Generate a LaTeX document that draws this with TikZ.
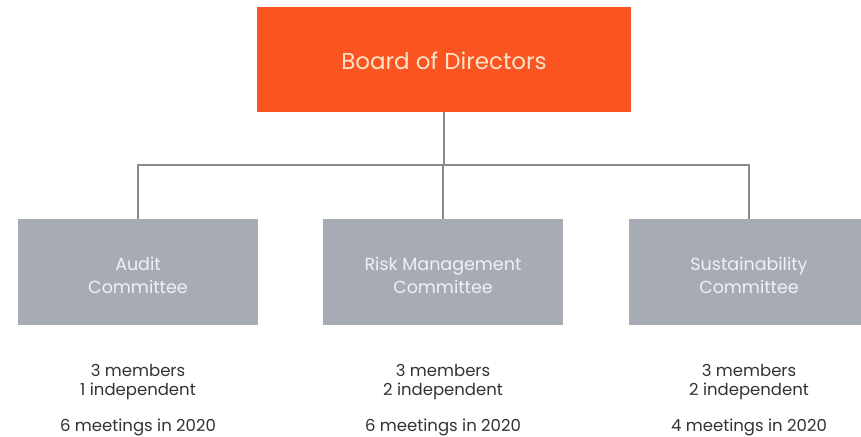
\documentclass[tikz,border=0pt]{standalone}
\usepackage{fontspec}
\setmainfont{Poppins}
\definecolor{boardorange}{HTML}{FA5420}
\definecolor{boardtext}{HTML}{FDE3C9}
\definecolor{commgrey}{HTML}{A7ACB4}
\definecolor{commtext}{HTML}{F0F1F3}
\definecolor{linegrey}{HTML}{8A8A8A}
\definecolor{infotext}{HTML}{333333}
\begin{document}
\begin{tikzpicture}[x=1pt,y=1pt,
  boardbox/.style={fill=boardorange, text=boardtext, minimum width=374pt, minimum height=105pt, inner sep=0pt},
  boardlbl/.style={text=boardtext, inner sep=0pt, font=\fontsize{23}{27}\selectfont},
  commbox/.style={fill=commgrey, minimum width=240pt, minimum height=106pt, inner sep=0pt},
  commlbl/.style={text=commtext, inner sep=0pt, align=center, font=\fontsize{17.5}{23}\selectfont},
  infotxt/.style={text=infotext, anchor=base, inner sep=0pt, font=\fontsize{16.5}{18}\selectfont},
  conn/.style={draw=linegrey, line width=1.3pt}]
\useasboundingbox (0,0) rectangle (861,436);
\clip (0,0) rectangle (861,436);
\fill[white] (0,0) rectangle (861,436);
\node[boardbox] (board) at (444,376.5) {};
\node[boardlbl] (boardt) at ([yshift=-1pt]board.center) {Board of Directors};
\node[commbox] (audit) at (138,164) {};
\node[commbox] (risk) at (443,164) {};
\node[commbox] (sust) at (749,164) {};
\node[commlbl] (auditt) at ([yshift=-3.5pt]audit.center) {Audit\\Committee};
\node[commlbl] (riskt) at ([yshift=-3.5pt]risk.center) {Risk Management\\Committee};
\node[commlbl] (sustt) at ([yshift=-3.5pt]sust.center) {Sustainability\\Committee};
\coordinate (hub) at (board.south |- 0,271);
\draw[conn] (board.south) -- (hub);
\draw[conn] (audit.north) |- (hub) -| (sust.north);
\draw[conn] (hub) -- (hub -| risk.north) -- (risk.north);
\node[infotxt] (a1) at (138,59) {3 members};
\node[infotxt] (a2) at (138,41) {1 independent};
\node[infotxt] (a3) at (138,5) {6 meetings in 2020};
\node[infotxt] (r1) at (443,59) {3 members};
\node[infotxt] (r2) at (443,41) {2 independent};
\node[infotxt] (r3) at (443,5) {6 meetings in 2020};
\node[infotxt] (s1) at (749,59) {3 members};
\node[infotxt] (s2) at (749,41) {2 independent};
\node[infotxt] (s3) at (749,5) {4 meetings in 2020};
\end{tikzpicture}
\end{document}
